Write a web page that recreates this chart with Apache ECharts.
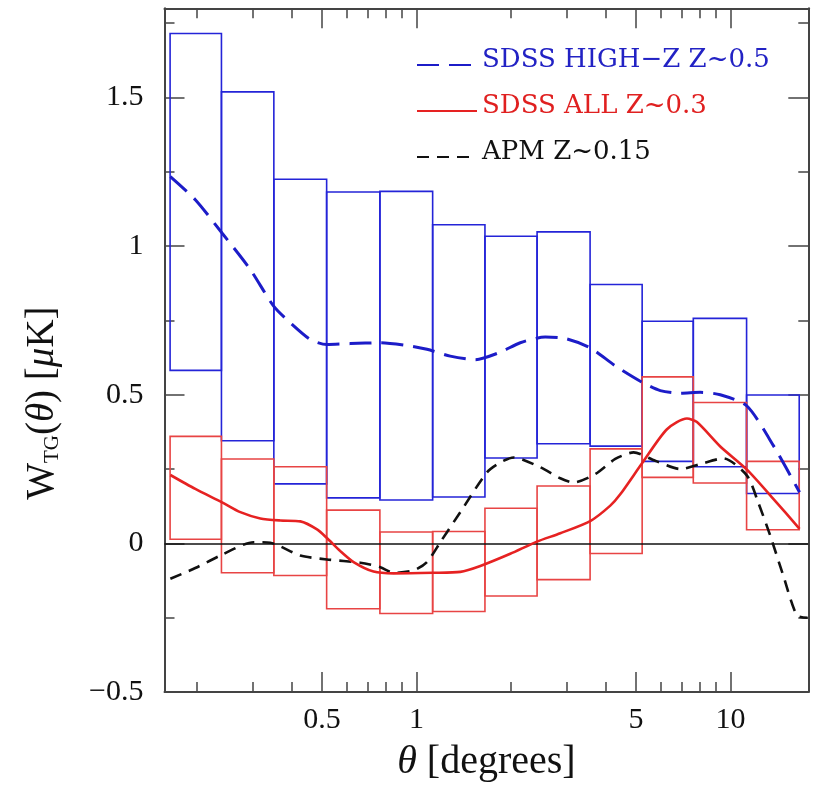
<!DOCTYPE html>
<html><head><meta charset="utf-8">
<script src="https://cdn.jsdelivr.net/npm/echarts@6/dist/echarts.min.js"></script>
<style>html,body{margin:0;padding:0;background:#fff}#c{width:819px;height:787px}</style>
</head><body><div id="c"></div>
<script>
// ---- data ----
const binEdges = [0.164, 0.239, 0.351, 0.517, 0.764, 1.125, 1.651, 2.42, 3.57, 5.23, 7.61, 11.25, 16.55];
const highzTop    = [1.715, 1.519, 1.225, 1.182, 1.184, 1.072, 1.033, 1.048, 0.871, 0.747, 0.757, 0.499];
const highzBottom = [0.582, 0.345, 0.200, 0.153, 0.146, 0.156, 0.287, 0.335, 0.327, 0.276, 0.258, 0.168];
const allTop      = [0.360, 0.284, 0.258, 0.112, 0.038, 0.040, 0.118, 0.193, 0.318, 0.560, 0.474, 0.276];
const allBottom   = [0.014, -0.099, -0.108, -0.220, -0.236, -0.229, -0.177, -0.122, -0.034, 0.222, 0.203, 0.046];

const highzCurve = [[0.1643,1.234],[0.1973,1.156],[0.240,1.044],[0.2954,0.921],[0.3505,0.798],[0.396,0.742],
  [0.4585,0.686],[0.518,0.669],[0.615,0.672],[0.766,0.675],[0.9548,0.664],[1.079,0.653],[1.280,0.630],
  [1.538,0.618],[1.847,0.643],[2.139,0.675],[2.570,0.694],[2.976,0.689],[3.573,0.658],[4.294,0.597],
  [5.246,0.541],[5.972,0.514],[6.916,0.505],[8.010,0.508],[9.274,0.500],[11.28,0.462],[13.71,0.328],[16.59,0.172]];
const allCurve = [[0.1643,0.230],[0.1973,0.183],[0.240,0.138],[0.2745,0.105],[0.3178,0.084],[0.368,0.077],
  [0.4262,0.074],[0.4818,0.047],[0.518,0.018],[0.5715,-0.026],[0.630,-0.063],[0.7295,-0.095],[0.845,-0.101],
  [1.128,-0.099],[1.378,-0.096],[1.596,-0.076],[1.988,-0.035],[2.418,0.006],[2.869,0.034],[3.573,0.075],
  [4.140,0.127],[4.454,0.165],[5.246,0.272],[6.274,0.384],[7.262,0.420],[7.816,0.408],[9.274,0.326],
  [11.28,0.248],[13.71,0.149],[16.59,0.049]];
const apmCurve = [[0.1643,-0.119],[0.1973,-0.083],[0.237,-0.041],[0.3027,0.004],[0.342,0.002],[0.4262,-0.041],
  [0.518,-0.054],[0.6617,-0.065],[0.766,-0.080],[0.845,-0.099],[0.978,-0.091],[1.079,-0.063],[1.190,0.004],
  [1.378,0.105],[1.676,0.239],[1.847,0.272],[2.037,0.289],[2.477,0.256],[2.869,0.219],[3.162,0.205],
  [3.708,0.233],[4.294,0.284],[4.911,0.306],[5.755,0.278],[6.916,0.250],[8.010,0.267],[9.500,0.286],
  [11.28,0.228],[12.25,0.138],[13.38,0.026],[14.72,-0.108],[16.27,-0.242],[17.60,-0.250]];

const seriesNames = ['SDSS HIGH\u2212Z Z~0.5', 'SDSS ALL Z~0.3', 'APM Z~0.15'];
const xMajor = [0.5, 1, 5, 10];
const xMinor = [0.2, 0.3, 0.4, 0.6, 0.7, 0.8, 0.9, 2, 3, 4, 6, 7, 8, 9];
const yMajor = [-0.5, 0, 0.5, 1, 1.5];
const yMinor = [-0.25, 0.25, 0.75, 1.25, 1.75];

// ---- chart ----
const BLUE = '#2424d8', BLUE_L = '#1c1cc8', RED = '#e62222', RED_B = '#e84444', FRAME = '#444';
const serif = 'Liberation Serif';
const legendFont = 'DejaVu Serif';

function boxes(top, bottom) {
  return binEdges.slice(0, -1).map((e, i) => [binEdges[i], binEdges[i + 1], top[i], bottom[i]]);
}
function boxRender(color) {
  return function (params, api) {
    const p0 = api.coord([api.value(0), api.value(2)]);
    const p1 = api.coord([api.value(1), api.value(3)]);
    return { type: 'rect', shape: { x: p0[0], y: p0[1], width: p1[0] - p0[0], height: p1[1] - p0[1] },
      style: { fill: 'none', stroke: color, lineWidth: 1.6 } };
  };
}
const XMIN = 0.1574, XMAX = 17.69, YMIN = -0.5, YMAX = 1.8;
function xAx(pos, major, withLine) {
  return {
    type: 'log', logBase: 10, min: XMIN, max: XMAX, position: pos,
    axisLine: { show: withLine, onZero: false, lineStyle: { color: FRAME, width: 2 } },
    axisTick: { show: true, inside: true, length: major ? 20 : 10, customValues: major ? xMajor : xMinor,
      lineStyle: { color: FRAME, width: 1.5 } },
    axisLabel: { show: pos === 'bottom' && major, customValues: xMajor, margin: 13,
      fontFamily: serif, fontSize: 30, color: '#111', formatter: v => String(v) },
    splitLine: { show: false }, minorTick: { show: false }
  };
}
function yAx(pos, major, withLine) {
  return {
    type: 'value', min: YMIN, max: YMAX, position: pos,
    axisLine: { show: withLine, onZero: false, lineStyle: { color: FRAME, width: 2 } },
    axisTick: { show: true, inside: true, length: major ? 20 : 10, customValues: major ? yMajor : yMinor,
      lineStyle: { color: FRAME, width: 1.5 } },
    axisLabel: { show: pos === 'left' && major, customValues: yMajor, margin: 21,
      fontFamily: serif, fontSize: 30, color: '#111', formatter: v => String(v).replace('-', '\u2212') },
    splitLine: { show: false }
  };
}
const xAxes = [xAx('bottom', true, true), xAx('bottom', false, false), xAx('top', true, true), xAx('top', false, false)];
xAxes[0].name = '{i|\u03b8} [degrees]';
xAxes[0].nameLocation = 'middle';
xAxes[0].nameGap = 50;
xAxes[0].nameTextStyle = { fontFamily: serif, fontSize: 40, color: '#111',
  rich: { i: { fontFamily: serif, fontSize: 40, fontStyle: 'italic', color: '#111' } } };
const yAxes = [yAx('left', true, true), yAx('left', false, false), yAx('right', true, true), yAx('right', false, false)];
yAxes[0].name = '{w|W}{s|TG}{w|(}{i|\u03b8}{w|) [}{i|\u03bc}{w|K]}';
yAxes[0].nameLocation = 'middle';
yAxes[0].nameRotate = 90;
yAxes[0].nameGap = 102;
yAxes[0].nameTextStyle = { color: '#111', padding: [0, 106, 0, 0],
  rich: { w: { fontFamily: serif, fontSize: 39, lineHeight: 40, color: '#111' },
          i: { fontFamily: serif, fontSize: 39, lineHeight: 40, fontStyle: 'italic', color: '#111' },
          s: { fontFamily: serif, fontSize: 21, lineHeight: 16, verticalAlign: 'bottom', color: '#111' } } };

const LFS = 26;
const legendRich = (color) => ({ t: { fontFamily: legendFont, fontSize: LFS, lineHeight: LFS, color: color } });
const legendText = (color) => ({ color: color, fontFamily: legendFont, fontSize: LFS, lineHeight: LFS,
  padding: [0, 0, 10, 0], rich: legendRich(color) });
const option = {
  animation: false,
  backgroundColor: '#fff',
  grid: { left: 164.5, right: 10.7, top: 8.3, bottom: 93.7, containLabel: false },
  xAxis: xAxes,
  yAxis: yAxes,
  legend: {
    orient: 'vertical', left: 416, top: 47, padding: 0, itemWidth: 60, itemHeight: 14, itemGap: 10,
    selectedMode: false,
    itemStyle: { color: 'rgba(0,0,0,0)', borderWidth: 0, opacity: 0 },
    formatter: name => '{t|' + name + '}',
    textStyle: legendText('#111'),
    data: [
      { name: seriesNames[0], textStyle: legendText('#2222c4') },
      { name: seriesNames[1], textStyle: legendText('#e02020') },
      { name: seriesNames[2], textStyle: legendText('#111') }
    ]
  },
  series: [
    { type: 'custom', name: 'highz-boxes', renderItem: boxRender(BLUE), data: boxes(highzTop, highzBottom),
      encode: { x: [0, 1], y: [2, 3] }, z: 2 },
    { type: 'custom', name: 'all-boxes', renderItem: boxRender(RED_B), data: boxes(allTop, allBottom),
      encode: { x: [0, 1], y: [2, 3] }, z: 3,
      markLine: { silent: true, symbol: 'none', label: { show: false },
        lineStyle: { color: '#111', width: 1.5, type: 'solid' }, data: [{ yAxis: 0 }] } },
    { type: 'line', name: seriesNames[2], data: apmCurve, smooth: 0.25, symbol: 'none', z: 4,
      lineStyle: { color: '#111', width: 2.6, type: [12, 8] }, itemStyle: { color: '#111' } },
    { type: 'line', name: seriesNames[1], data: allCurve, smooth: 0.25, symbol: 'none', z: 5,
      lineStyle: { color: RED, width: 2.6, type: 'solid' }, itemStyle: { color: RED } },
    { type: 'line', name: seriesNames[0], data: highzCurve, smooth: 0.25, symbol: 'none', z: 6,
      lineStyle: { color: BLUE_L, width: 3, type: [22, 10] }, itemStyle: { color: BLUE_L } }
  ]
};
const chart = echarts.init(document.getElementById('c'), null, { renderer: 'canvas' });
chart.setOption(option);
</script></body></html>
